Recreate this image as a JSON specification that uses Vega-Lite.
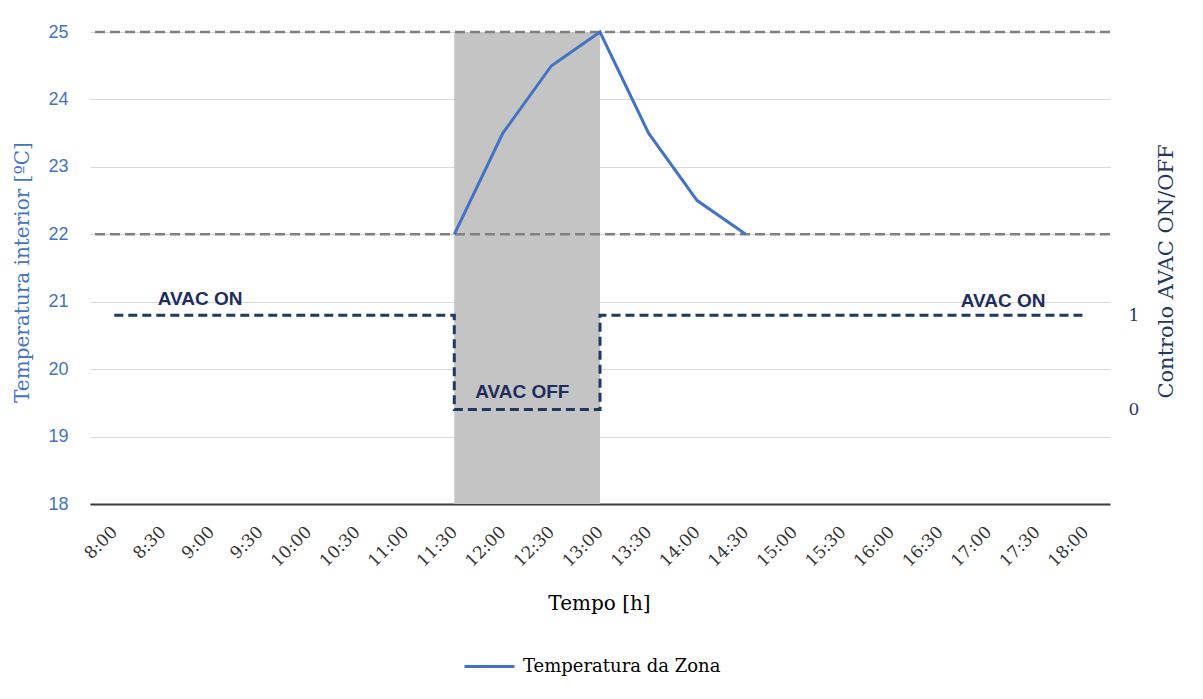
{
  "$schema": "https://vega.github.io/schema/vega-lite/v6.json",
  "width": 1020,
  "height": 472,
  "autosize": {"type": "none"},
  "padding": {"left": 90, "top": 32, "right": 93, "bottom": 195},
  "background": "white",
  "config": {"view": {"stroke": null}},
  "datasets": {
    "temp": [
      {"time": "2024-01-01T11:30:00", "temp": 22, "series": "Temperatura da Zona"},
      {"time": "2024-01-01T12:00:00", "temp": 23.5, "series": "Temperatura da Zona"},
      {"time": "2024-01-01T12:30:00", "temp": 24.5, "series": "Temperatura da Zona"},
      {"time": "2024-01-01T13:00:00", "temp": 25, "series": "Temperatura da Zona"},
      {"time": "2024-01-01T13:30:00", "temp": 23.5, "series": "Temperatura da Zona"},
      {"time": "2024-01-01T14:00:00", "temp": 22.5, "series": "Temperatura da Zona"},
      {"time": "2024-01-01T14:30:00", "temp": 22, "series": "Temperatura da Zona"}
    ],
    "control": [
      {"time": "2024-01-01T08:00:00", "ctrl": 1, "step": 1},
      {"time": "2024-01-01T11:30:00", "ctrl": 1, "step": 2},
      {"time": "2024-01-01T11:30:00", "ctrl": 0, "step": 3},
      {"time": "2024-01-01T13:00:00", "ctrl": 0, "step": 4},
      {"time": "2024-01-01T13:00:00", "ctrl": 1, "step": 5},
      {"time": "2024-01-01T18:00:00", "ctrl": 1, "step": 6}
    ],
    "period": [
      {"time": "2024-01-01T11:30:00", "end": "2024-01-01T13:00:00", "lo": 18, "hi": 25}
    ],
    "limits": [{"limit": 25}, {"limit": 22}],
    "notes": [
      {"time": "2024-01-01T08:53:00", "level": 21.04, "label": "AVAC ON"},
      {"time": "2024-01-01T17:09:00", "level": 21.01, "label": "AVAC ON"},
      {"time": "2024-01-01T12:12:00", "level": 19.66, "label": "AVAC OFF"}
    ]
  },
  "layer": [
    {
      "layer": [
        {
          "data": {"name": "period"},
          "mark": {"type": "rect", "color": "#C4C4C4"},
          "encoding": {
            "x": {
              "field": "time", "type": "temporal",
              "scale": {"domain": [{"year": 2024, "month": 1, "date": 1, "hours": 7, "minutes": 45}, {"year": 2024, "month": 1, "date": 1, "hours": 18, "minutes": 15}], "nice": false},
              "axis": {
                "title": "Tempo [h]",
                "format": "%-H:%M",
                "values": [
                  {"year": 2024, "month": 1, "date": 1, "hours": 8, "minutes": 0},
                  {"year": 2024, "month": 1, "date": 1, "hours": 8, "minutes": 30},
                  {"year": 2024, "month": 1, "date": 1, "hours": 9, "minutes": 0},
                  {"year": 2024, "month": 1, "date": 1, "hours": 9, "minutes": 30},
                  {"year": 2024, "month": 1, "date": 1, "hours": 10, "minutes": 0},
                  {"year": 2024, "month": 1, "date": 1, "hours": 10, "minutes": 30},
                  {"year": 2024, "month": 1, "date": 1, "hours": 11, "minutes": 0},
                  {"year": 2024, "month": 1, "date": 1, "hours": 11, "minutes": 30},
                  {"year": 2024, "month": 1, "date": 1, "hours": 12, "minutes": 0},
                  {"year": 2024, "month": 1, "date": 1, "hours": 12, "minutes": 30},
                  {"year": 2024, "month": 1, "date": 1, "hours": 13, "minutes": 0},
                  {"year": 2024, "month": 1, "date": 1, "hours": 13, "minutes": 30},
                  {"year": 2024, "month": 1, "date": 1, "hours": 14, "minutes": 0},
                  {"year": 2024, "month": 1, "date": 1, "hours": 14, "minutes": 30},
                  {"year": 2024, "month": 1, "date": 1, "hours": 15, "minutes": 0},
                  {"year": 2024, "month": 1, "date": 1, "hours": 15, "minutes": 30},
                  {"year": 2024, "month": 1, "date": 1, "hours": 16, "minutes": 0},
                  {"year": 2024, "month": 1, "date": 1, "hours": 16, "minutes": 30},
                  {"year": 2024, "month": 1, "date": 1, "hours": 17, "minutes": 0},
                  {"year": 2024, "month": 1, "date": 1, "hours": 17, "minutes": 30},
                  {"year": 2024, "month": 1, "date": 1, "hours": 18, "minutes": 0}
                ],
                "labelAngle": -45,
                "labelAlign": "right",
                "labelBaseline": "middle",
                "labelPadding": 25,
                "labelFont": "DejaVu Serif",
                "labelFontSize": 17,
                "labelColor": "#333333",
                "labelOverlap": false,
                "labelFlush": false,
                "ticks": false,
                "grid": false,
                "domain": true,
                "domainColor": "#3A3A3A",
                "domainWidth": 2,
                "titleFont": "DejaVu Serif",
                "titleFontSize": 20,
                "titleFontWeight": "normal",
                "titleColor": "#000000",
                "titleX": 509,
                "titleY": 105,
                "titleBaseline": "alphabetic",
                "titleAlign": "center"
              }
            },
            "x2": {"field": "end"},
            "y": {
              "field": "lo", "type": "quantitative",
              "scale": {"domain": [18, 25], "nice": false, "zero": false},
              "title": "Temperatura interior [ºC]",
              "axis": {
                "values": [18, 19, 20, 21, 22, 23, 24, 25],
                "format": "d",
                "grid": true,
                "gridColor": "#D9D9D9",
                "gridWidth": 1.2,
                "domain": false,
                "ticks": false,
                "labelPadding": 22,
                "labelFont": "Liberation Sans",
                "labelFontSize": 18,
                "labelColor": "#4472C4",
                "titleFont": "DejaVu Serif",
                "titleFontSize": 20,
                "titleFontWeight": "normal",
                "titleColor": "#4472C4",
                "titleAngle": 270,
                "titleX": -62,
                "titleY": 240,
                "titleBaseline": "alphabetic",
                "titleAlign": "center"
              }
            },
            "y2": {"field": "hi"}
          }
        },
        {
          "data": {"name": "limits"},
          "mark": {"type": "rule", "color": "#808080", "strokeWidth": 2.5, "strokeDash": [10, 5]},
          "encoding": {
            "y": {"field": "limit", "type": "quantitative", "scale": {"domain": [18, 25], "nice": false, "zero": false}, "title": "Temperatura interior [ºC]"}
          }
        },
        {
          "data": {"name": "temp"},
          "mark": {"type": "line", "strokeWidth": 3},
          "encoding": {
            "x": {"field": "time", "type": "temporal", "scale": {"domain": [{"year": 2024, "month": 1, "date": 1, "hours": 7, "minutes": 45}, {"year": 2024, "month": 1, "date": 1, "hours": 18, "minutes": 15}], "nice": false}},
            "y": {"field": "temp", "type": "quantitative", "scale": {"domain": [18, 25], "nice": false, "zero": false}, "title": "Temperatura interior [ºC]"},
            "color": {
              "field": "series", "type": "nominal",
              "scale": {"range": ["#4472C4"]},
              "legend": {
                "orient": "none",
                "legendX": 373,
                "legendY": 608,
                "title": null,
                "padding": 0,
                "symbolType": "stroke",
                "symbolSize": 2500,
                "symbolStrokeWidth": 3,
                "labelFont": "DejaVu Serif",
                "labelFontSize": 18,
                "labelColor": "#000000",
                "labelOffset": 7,
                "labelLimit": 0
              }
            }
          }
        },
        {
          "data": {"name": "notes"},
          "mark": {"type": "text", "font": "Liberation Sans", "fontWeight": "bold", "fontSize": 19, "color": "#1F2D5C", "align": "center", "baseline": "middle"},
          "encoding": {
            "x": {"field": "time", "type": "temporal", "scale": {"domain": [{"year": 2024, "month": 1, "date": 1, "hours": 7, "minutes": 45}, {"year": 2024, "month": 1, "date": 1, "hours": 18, "minutes": 15}], "nice": false}},
            "y": {"field": "level", "type": "quantitative", "scale": {"domain": [18, 25], "nice": false, "zero": false}, "title": "Temperatura interior [ºC]"},
            "text": {"field": "label"}
          }
        }
      ]
    },
    {
      "data": {"name": "control"},
      "mark": {"type": "line", "color": "#1F3864", "strokeWidth": 3, "strokeDash": [9, 5]},
      "encoding": {
        "x": {"field": "time", "type": "temporal", "scale": {"domain": [{"year": 2024, "month": 1, "date": 1, "hours": 7, "minutes": 45}, {"year": 2024, "month": 1, "date": 1, "hours": 18, "minutes": 15}], "nice": false}},
        "y": {
          "field": "ctrl", "type": "quantitative",
          "scale": {"domain": [-1, 4], "nice": false, "zero": false},
          "axis": {
            "orient": "right",
            "title": "Controlo AVAC ON/OFF",
            "values": [0, 1],
            "grid": false,
            "domain": false,
            "ticks": false,
            "labelPadding": 18,
            "labelFont": "DejaVu Serif",
            "labelFontSize": 17,
            "labelColor": "#1F3864",
            "titleFont": "DejaVu Serif",
            "titleFontSize": 21,
            "titleFontWeight": "normal",
            "titleColor": "#1F3864",
            "titleAngle": 270,
            "titleX": 62,
            "titleY": 239,
            "titleBaseline": "alphabetic",
            "titleAlign": "center"
          }
        },
        "order": {"field": "step", "type": "quantitative"}
      }
    }
  ],
  "resolve": {"scale": {"y": "independent"}, "axis": {"y": "independent"}}
}
